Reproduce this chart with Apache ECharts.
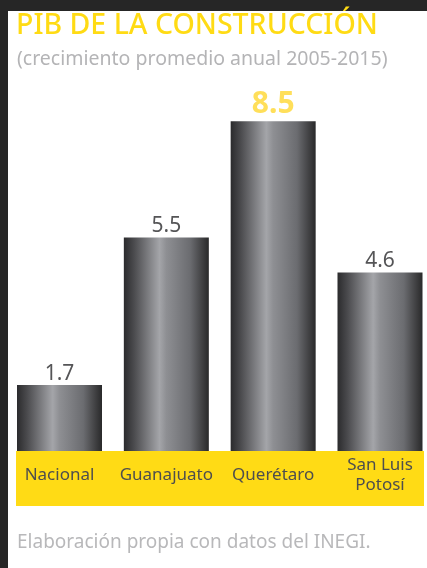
<!DOCTYPE html>
<html><head><meta charset="utf-8">
<script src="https://cdn.jsdelivr.net/npm/echarts@6/dist/echarts.min.js"></script>
<style>html,body{margin:0;padding:0;background:#262626;}#c{width:427px;height:568px;}</style>
</head><body><div id="c"></div>
<script>
const categories = ['Nacional', 'Guanajuato', 'Querétaro', 'San Luis\nPotosí'];
const values = [1.7, 5.5, 8.5, 4.6];
const highlightIndex = 2;
const titleText = 'PIB DE LA CONSTRUCCIÓN';
const subtitleText = '(crecimiento promedio anual 2005-2015)';
const footerText = 'Elaboración propia con datos del INEGI.';

const FONT = '"Noto Sans", "Open Sans", sans-serif';
const barGrad = new echarts.graphic.LinearGradient(0, 0, 1, 0, [
  {offset: 0, color: '#2b2b2d'},
  {offset: 0.12, color: '#4b4b4e'},
  {offset: 0.42, color: '#a4a5a9'},
  {offset: 0.5, color: '#8e8f93'},
  {offset: 0.78, color: '#6b6c70'},
  {offset: 0.92, color: '#414143'},
  {offset: 1, color: '#29292a'}
]);

const chart = echarts.init(document.getElementById('c'), null, {renderer: 'canvas'});
chart.setOption({
  backgroundColor: '#262626',
  animation: false,
  graphic: [
    {type: 'rect', shape: {x: 8, y: 11, width: 419, height: 557}, style: {fill: '#ffffff'}, z: -10},
    {type: 'rect', shape: {x: 16, y: 451, width: 408, height: 55}, style: {fill: '#FFDB15'}, z: -5},
    {type: 'text', left: 16, top: 11, style: {text: titleText, fill: '#FFDB14', font: '500 28.5px ' + FONT}},
    {type: 'text', left: 17, top: 49, style: {text: subtitleText, fill: '#b4b4b6', font: '19.5px ' + FONT}},
    {type: 'text', left: 17, top: 533, style: {text: footerText, fill: '#b8b8ba', font: '19px ' + FONT}}
  ],
  grid: {left: 59.5, top: 63, width: 320.5, height: 388},
  xAxis: {
    type: 'category', data: categories, boundaryGap: false,
    axisLine: {show: false}, axisTick: {show: false},
    axisLabel: {color: '#4e4e4e', fontFamily: FONT, fontSize: 17, lineHeight: 20, margin: 24, verticalAlign: 'middle', interval: 0}
  },
  yAxis: {type: 'value', min: 0, max: 10, show: false, splitLine: {show: false}},
  series: [{
    type: 'bar',
    clip: false,
    data: values.map((v, i) => ({
      value: v,
      label: i === highlightIndex
        ? {color: '#FFDF5A', fontSize: 30, fontWeight: 'bold', distance: 2}
        : {color: '#555557', fontSize: 21, distance: 1}
    })),
    barWidth: 85,
    itemStyle: {color: barGrad, borderColor: '#b5b5b7', borderWidth: 0},
    label: {show: true, position: 'top', fontFamily: FONT, formatter: p => p.value.toFixed(1)}
  }]
});
</script></body></html>
